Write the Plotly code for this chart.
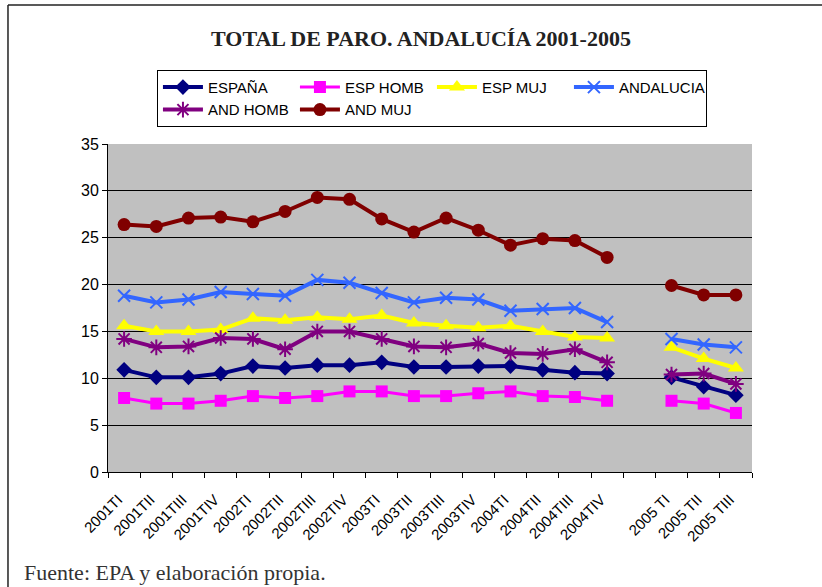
import plotly.graph_objects as go

categories = ["2001TI", "2001TII", "2001TIII", "2001TIV", "2002TI", "2002TII", "2002TIII", "2002TIV",
              "2003TI", "2003TII", "2003TIII", "2003TIV", "2004TI", "2004TII", "2004TIII", "2004TIV",
              " ", "2005 TI", "2005 TII", "2005 TIII"]

espana    = [10.9, 10.1, 10.1, 10.5, 11.3, 11.1, 11.4, 11.4, 11.7, 11.2, 11.2, 11.3, 11.3, 10.9, 10.6, 10.5, None, 10.1, 9.1, 8.2]
esp_homb  = [7.9, 7.3, 7.3, 7.6, 8.1, 7.9, 8.1, 8.6, 8.6, 8.1, 8.1, 8.4, 8.6, 8.1, 8.0, 7.6, None, 7.6, 7.3, 6.3]
esp_muj   = [15.6, 15.0, 15.0, 15.2, 16.4, 16.2, 16.5, 16.3, 16.7, 15.9, 15.6, 15.4, 15.6, 15.0, 14.4, 14.3, None, 13.3, 12.1, 11.1]
andalucia = [18.8, 18.1, 18.4, 19.2, 19.0, 18.8, 20.5, 20.2, 19.1, 18.1, 18.6, 18.4, 17.2, 17.4, 17.5, 16.0, None, 14.2, 13.6, 13.3]
and_homb  = [14.2, 13.3, 13.4, 14.3, 14.2, 13.1, 15.0, 15.0, 14.2, 13.4, 13.3, 13.7, 12.7, 12.6, 13.1, 11.7, None, 10.4, 10.5, 9.4]
and_muj   = [26.4, 26.2, 27.1, 27.2, 26.7, 27.8, 29.3, 29.1, 27.0, 25.6, 27.1, 25.8, 24.2, 24.9, 24.7, 22.9, None, 19.9, 18.9, 18.9]

series = [
    ("ESPAÑA", espana, "#000080", "diamond", 12, 4, 0),
    ("ESP HOMB", esp_homb, "#FF00FF", "square", 12, 3, 0),
    ("ESP MUJ", esp_muj, "#FFFF00", "triangle-up", 14, 4, 0),
    ("ANDALUCIA", andalucia, "#3366FF", "x-thin-open", 12, 4, 2),
    ("AND HOMB", and_homb, "#800080", "asterisk-open", 13, 4, 2),
    ("AND MUJ", and_muj, "#800000", "circle", 13, 4, 0),
]

fig = go.Figure()
for name, vals, color, sym, size, lw, mlw in series:
    fig.add_trace(go.Scatter(
        x=categories, y=vals, name=name, mode="lines+markers",
        line=dict(color=color, width=lw),
        marker=dict(symbol=sym, size=size, color=color, line=dict(color=color, width=mlw)),
        connectgaps=False,
    ))

fig.update_layout(
    width=822, height=587,
    margin=dict(l=108, r=70, t=144, b=115),
    paper_bgcolor="white", plot_bgcolor="#C0C0C0",
    font=dict(family="Liberation Sans, Arial", color="black"),
    showlegend=True,
    legend=dict(
        orientation="h", x=0.076, y=1.226, xanchor="left", yanchor="top",
        bgcolor="white", bordercolor="black", borderwidth=1,
        font=dict(size=15, family="Liberation Sans, Arial"),
        entrywidth=82, entrywidthmode="pixels",
        tracegroupgap=0, itemwidth=40,
    ),
    xaxis=dict(
        type="category", categoryorder="array", categoryarray=categories,
        tickangle=-45, tickfont=dict(size=15),
        showline=True, linecolor="black", linewidth=1,
        ticks="outside", ticklen=5, tickcolor="black", tickson="boundaries",
        ticklabelstandoff=12, ticklabelshift=-6,
        showgrid=False, mirror=False, range=[-0.5, len(categories) - 0.5],
    ),
    yaxis=dict(
        range=[0, 35], dtick=5, tickfont=dict(size=16),
        showline=True, linecolor="black", linewidth=1,
        ticks="outside", ticklen=5, tickcolor="black",
        showgrid=True, gridcolor="black", gridwidth=1, zeroline=False,
    ),
    annotations=[
        dict(text="<b>TOTAL DE PARO. ANDALUCÍA 2001-2005</b>", xref="paper", yref="paper",
             x=0.486, y=1.323, xanchor="center", yanchor="middle", showarrow=False,
             font=dict(family="Liberation Serif, Times New Roman", size=22, color="#222")),
        dict(text="Fuente: EPA y elaboración propia.", xref="paper", yref="paper",
             x=-0.1335, y=-0.305, xanchor="left", yanchor="middle", showarrow=False,
             font=dict(family="Liberation Serif, Times New Roman", size=22, color="#333")),
    ],
    shapes=[
        dict(type="line", xref="paper", yref="paper", x0=-0.1553, x1=1.11, y0=1.4238, y1=1.4238,
             line=dict(color="#222", width=1.5)),
        dict(type="line", xref="paper", yref="paper", x0=-0.1553, x1=-0.1553, y0=1.4238, y1=-0.36,
             line=dict(color="#222", width=1.5)),
    ],
)

fig.write_html("out.html", config={"displayModeBar": False},
               post_script="document.body.style.margin='0';")
